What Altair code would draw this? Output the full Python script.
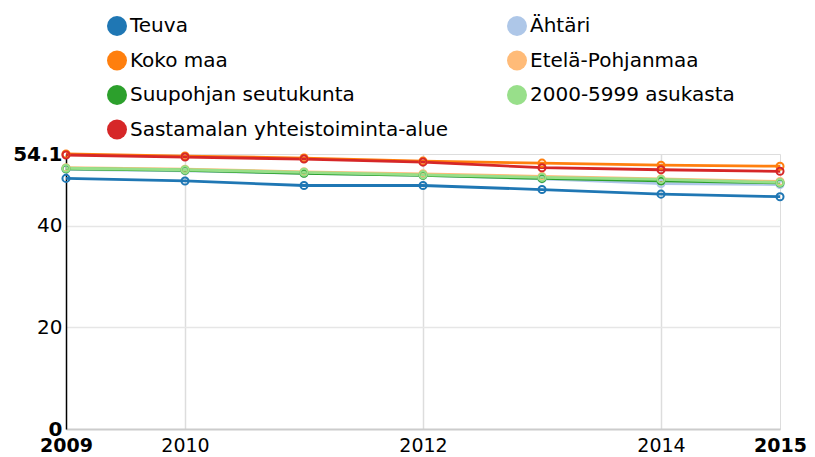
import altair as alt
import pandas as pd

years = [2009, 2010, 2011, 2012, 2013, 2014, 2015]

series_names = [
    "Teuva",
    "Ähtäri",
    "Koko maa",
    "Etelä-Pohjanmaa",
    "Suupohjan seutukunta",
    "2000-5999 asukasta",
    "Sastamalan yhteistoiminta-alue",
]

teuva = [49.3, 48.8, 47.9, 47.9, 47.1, 46.2, 45.7]
ahtari = [51.1, 50.8, 50.3, 49.9, 49.2, 48.3, 48.1]
koko_maa = [54.1, 53.7, 53.3, 52.7, 52.3, 51.9, 51.7]
etela_pohjanmaa = [51.4, 51.1, 50.6, 50.2, 49.7, 49.2, 48.7]
suupohja = [51.2, 50.9, 50.3, 49.9, 49.3, 48.8, 48.4]
asukasta = [51.3, 51.0, 50.5, 50.0, 49.5, 49.1, 48.5]
sastamala = [53.9, 53.5, 53.1, 52.5, 51.4, 51.0, 50.7]

colors = ["#1f77b4", "#aec7e8", "#ff7f0e", "#ffbb78", "#2ca02c", "#98df8a", "#d62728"]

x_ticks = [2009, 2010, 2012, 2014, 2015]
y_ticks = [0, 20, 40, 54.1]

all_values = [teuva, ahtari, koko_maa, etela_pohjanmaa, suupohja, asukasta, sastamala]
rows = []
for i, (name, vals) in enumerate(zip(series_names, all_values)):
    for y, v in zip(years, vals):
        rows.append({"vuosi": y, "arvo": v, "sarja": name, "order": i})
df = pd.DataFrame(rows)

FONT = "DejaVu Sans"

color_scale = alt.Scale(domain=series_names, range=colors)

color_enc = alt.Color("sarja:N", scale=color_scale, sort=series_names, legend=None)

fill_enc = alt.Fill(
    "sarja:N",
    scale=color_scale,
    sort=series_names,
    legend=alt.Legend(
        title=None,
        orient="none",
        direction="horizontal",
        legendX=41,
        legendY=-138,
        columns=2,
        columnPadding=58,
        rowPadding=14.5,
        symbolType="circle",
        symbolSize=400,
        symbolStrokeWidth=0,
        symbolOpacity=1,
        labelFont=FONT,
        labelFontSize=20,
        labelColor="#000",
        labelOffset=3,
        labelLimit=500,
        padding=0,
    ),
)

x_enc = alt.X(
    "vuosi:Q",
    scale=alt.Scale(domain=[2009, 2015], nice=False, zero=False),
    axis=alt.Axis(
        title=None,
        values=x_ticks,
        format="d",
        ticks=False,
        labelFont=FONT,
        labelFontSize=19,
        labelColor="#000",
        labelPadding=7,
        labelFontWeight={"condition": {"test": "datum.value == 2009 || datum.value == 2015", "value": "bold"}, "value": "normal"},
        grid=True,
        gridColor={"condition": {"test": "datum.value == 2015 || datum.value == 2009", "value": "transparent"}, "value": "#dddddd"},
        gridWidth=1.5,
        domainColor="#cccccc",
        domainWidth=2,
        labelOverlap=False,
        labelFlush=False,
    ),
)

y_enc = alt.Y(
    "arvo:Q",
    scale=alt.Scale(domain=[0, 54.1], nice=False),
    axis=alt.Axis(
        title=None,
        values=y_ticks,
        format=".1~f",
        ticks=False,
        labelFont=FONT,
        labelFontSize=20,
        labelColor="#000",
        labelPadding=4,
        labelFontWeight={"condition": {"test": "datum.value == 0 || datum.value > 54", "value": "bold"}, "value": "normal"},
        grid=True,
        gridColor={"condition": {"test": "datum.value == 0 || datum.value > 54", "value": "transparent"}, "value": "#e6e6e6"},
        gridWidth=1.5,
        domainColor="#000000",
        domainWidth=1.5,
        labelOverlap=False,
        labelFlush=False,
    ),
)

base = alt.Chart(df).encode(x=x_enc, y=y_enc, order="order:Q")

legend_layer = base.mark_circle(size=0, opacity=1).encode(fill=fill_enc)
lines = base.mark_line(strokeWidth=2.8).encode(color=color_enc)
points = base.mark_point(filled=False, size=50, strokeWidth=2, opacity=1).encode(color=color_enc)

chart = (
    alt.layer(legend_layer, lines, points)
    .properties(
        width=714,
        height=275,
        autosize=alt.AutoSizeParams(type="none"),
        padding={"left": 58, "top": 146, "right": 27, "bottom": 26},
    )
    .configure_view(stroke=None)
    .configure(background="white")
)

chart.save("out.html", embed_options={"renderer": "svg", "actions": False})
